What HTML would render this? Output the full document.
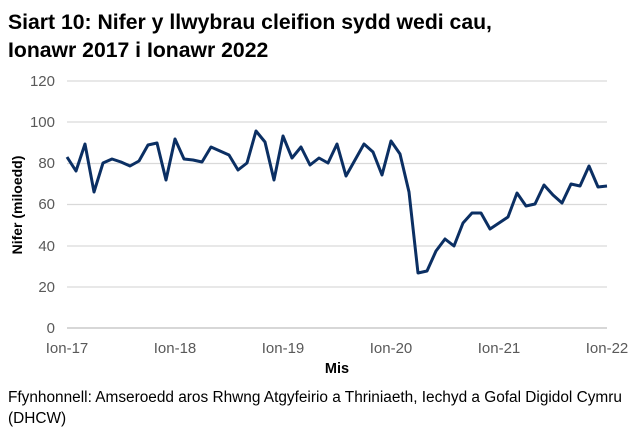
<!DOCTYPE html>
<html><head><style>
body{margin:0;background:#fff;width:638px;height:436px;overflow:hidden;font-family:"Liberation Sans",Arial,sans-serif}
</style></head><body>
<svg width="638" height="436" xmlns="http://www.w3.org/2000/svg" font-family="Liberation Sans, Arial, sans-serif">
<text x="8" y="29" font-size="21.2" font-weight="bold" fill="#000">Siart 10: Nifer y llwybrau cleifion sydd wedi cau,</text>
<text x="8" y="57" font-size="21.2" font-weight="bold" fill="#000">Ionawr 2017 i Ionawr 2022</text>
<g stroke="#d9d9d9" stroke-width="1.3">
<line x1="67" x2="607" y1="81" y2="81"/><line x1="67" x2="607" y1="122" y2="122"/><line x1="67" x2="607" y1="163.5" y2="163.5"/><line x1="67" x2="607" y1="204.5" y2="204.5"/><line x1="67" x2="607" y1="246" y2="246"/><line x1="67" x2="607" y1="287" y2="287"/>
</g>
<line x1="67" x2="607" y1="328" y2="328" stroke="#bfbfbf" stroke-width="1.3"/>
<g font-size="15" fill="#595959" text-anchor="end">
<text x="55" y="86">120</text><text x="55" y="127">100</text><text x="55" y="168">80</text><text x="55" y="209">60</text><text x="55" y="251">40</text><text x="55" y="292">20</text><text x="55" y="333">0</text>
</g>
<g font-size="15" fill="#595959" text-anchor="middle">
<text x="67" y="353">Ion-17</text><text x="175" y="353">Ion-18</text><text x="283" y="353">Ion-19</text><text x="391" y="353">Ion-20</text><text x="499" y="353">Ion-21</text><text x="607" y="353">Ion-22</text>
</g>
<text x="337" y="373" font-size="14.5" font-weight="bold" text-anchor="middle" fill="#000">Mis</text>
<text transform="translate(22,205) rotate(-90)" font-size="14" font-weight="bold" text-anchor="middle" fill="#000">Nifer (miloedd)</text>
<polyline fill="none" stroke="#0b2f63" stroke-width="3" stroke-linejoin="round" points="67,157 76,171 85,144 94,192 103,163 112,159 121,162 130,166 139,161 148,145 157,143 166,180 175,139 184,159 193,160 202,162 211,147 220,151 229,155 238,170 247,163 256,131 265,142 274,180 283,136 292,158 301,147 310,165 319,158 328,163 337,144 346,176 355,160 364,144 373,152 382,175 391,141 400,154 409,192 418,273 427,271 436,251 445,239 454,246 463,223 472,213 481,213 490,229 499,223 508,217 517,193 526,206 535,204 544,185 553,195 562,203 571,184 580,186 589,166 598,187 607,186"/>
<text x="8" y="402" font-size="15.4" fill="#000">Ffynhonnell: Amseroedd aros Rhwng Atgyfeirio a Thriniaeth, Iechyd a Gofal Digidol Cymru</text>
<text x="8" y="423" font-size="15.4" fill="#000">(DHCW)</text>
</svg>
</body></html>
